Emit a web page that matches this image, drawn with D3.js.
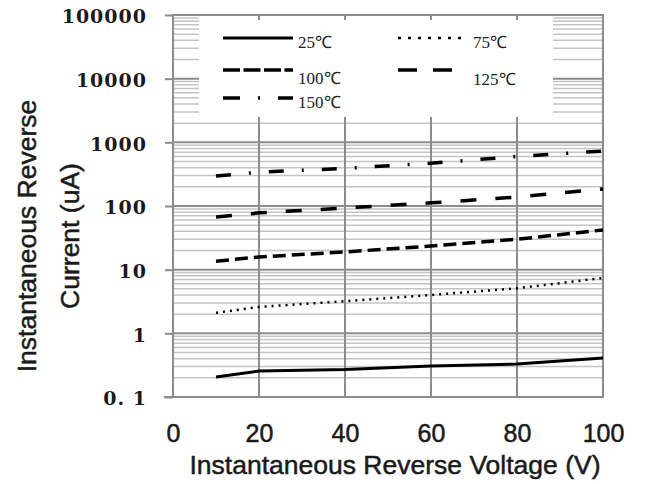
<!DOCTYPE html>
<html>
<head>
<meta charset="utf-8">
<script src="https://cdn.jsdelivr.net/npm/d3@7"></script>
<style>
body { margin: 0; background: #fff; }
.ylab text { font-family: "DejaVu Serif", serif; font-size: 19px; font-weight: bold; fill: #1a1a1a; letter-spacing: 1px; }
.xlab text { font-family: "Liberation Sans", Arial, sans-serif; font-size: 25px; fill: #1a1a1a; stroke: #1a1a1a; stroke-width: 0.5px; }
.title { font-family: "Liberation Sans", Arial, sans-serif; font-size: 26.5px; fill: #1a1a1a; stroke: #1a1a1a; stroke-width: 0.5px; }
.leg { font-family: "Liberation Serif", serif; font-size: 17px; fill: #222; }
</style>
</head>
<body>
<div id="chart"></div>
<script>
const voltage = [10, 20, 40, 60, 80, 100];
const i25 = [0.206, 0.256, 0.27, 0.307, 0.33, 0.41];
const i75 = [2.1, 2.6, 3.2, 4.0, 5.1, 7.4];
const i100 = [13.6, 15.8, 19, 23.5, 30, 42];
const i125 = [67, 78, 93, 112, 138, 185];
const i150 = [295, 340, 390, 470, 600, 730];

const seriesNames = ["25℃", "75℃", "100℃", "125℃", "150℃"];
const xTicks = [0, 20, 40, 60, 80, 100];
const yTicks = [0.1, 1, 10, 100, 1000, 10000, 100000];
const yLabels = ["0. 1", "1", "10", "100", "1000", "10000", "100000"];

const widthSvg = 645, heightSvg = 484;
const plotLeft = 173, plotRight = 603, plotTop = 15, plotBottom = 397;

const x = d3.scaleLinear().domain([0, 100]).range([plotLeft, plotRight]);
const y = d3.scaleLog().domain([0.1, 100000]).range([plotBottom, plotTop]);

const svg = d3.select("#chart").append("svg")
    .attr("width", widthSvg)
    .attr("height", heightSvg);

// grid
let minor = [];
for (let k = -1; k < 5; k++) {
    for (let m = 2; m < 10; m++) minor.push(m * Math.pow(10, k));
}
svg.append("g").selectAll("line")
    .data(minor).enter().append("line")
    .attr("x1", plotLeft).attr("x2", plotRight)
    .attr("y1", d => y(d)).attr("y2", d => y(d))
    .attr("stroke", "#c4c4c4").attr("stroke-width", 1.5);

svg.append("g").selectAll("line")
    .data(yTicks.slice(1, -1)).enter().append("line")
    .attr("x1", plotLeft).attr("x2", plotRight)
    .attr("y1", d => y(d)).attr("y2", d => y(d))
    .attr("stroke", "#8c8c8c").attr("stroke-width", 2);

svg.append("g").selectAll("line")
    .data(xTicks.slice(1, -1)).enter().append("line")
    .attr("x1", d => x(d)).attr("x2", d => x(d))
    .attr("y1", plotTop).attr("y2", plotBottom)
    .attr("stroke", "#8c8c8c").attr("stroke-width", 2);

// legend box
const legBox = { x0: 199, x1: 553, y1: 117 };
svg.append("rect")
    .attr("x", legBox.x0).attr("y", plotTop)
    .attr("width", legBox.x1 - legBox.x0).attr("height", legBox.y1 - plotTop)
    .attr("fill", "#fff");

svg.append("g").selectAll("line")
    .data(xTicks.slice(1, -1)).enter().append("line")
    .attr("x1", d => x(d)).attr("x2", d => x(d))
    .attr("y1", plotTop).attr("y2", plotTop + 5)
    .attr("stroke", "#8c8c8c").attr("stroke-width", 2);

// frame
svg.append("rect")
    .attr("x", plotLeft).attr("y", plotTop)
    .attr("width", plotRight - plotLeft).attr("height", plotBottom - plotTop)
    .attr("fill", "none").attr("stroke", "#8c8c8c").attr("stroke-width", 2);

// axes
const yAxis = svg.append("g")
    .attr("class", "ylab")
    .attr("transform", "translate(" + plotLeft + ",0)")
    .call(d3.axisLeft(y).tickValues(yTicks)
        .tickFormat((d, i) => yLabels[i]).tickSize(8).tickPadding(18));
yAxis.select(".domain").remove();
yAxis.selectAll("line").attr("stroke", "#8c8c8c").attr("stroke-width", 2);
yAxis.selectAll("text").attr("dy", "0.42em");

const xAxis = svg.append("g")
    .attr("class", "xlab")
    .attr("transform", "translate(0," + plotBottom + ")")
    .call(d3.axisBottom(x).tickValues(xTicks).tickSize(0).tickPadding(27));
xAxis.select(".domain").remove();

svg.append("line")
    .attr("x1", 164).attr("x2", plotRight)
    .attr("y1", plotBottom).attr("y2", plotBottom)
    .attr("stroke", "#8c8c8c").attr("stroke-width", 2);

// titles
svg.append("text")
    .attr("class", "title")
    .attr("x", 395).attr("y", 474)
    .attr("text-anchor", "middle")
    .text("Instantaneous Reverse Voltage (V)");

svg.append("text")
    .attr("class", "title")
    .attr("transform", "translate(27,236) rotate(-90)")
    .attr("text-anchor", "middle")
    .attr("dominant-baseline", "central")
    .text("Instantaneous Reverse");

svg.append("text")
    .attr("class", "title")
    .attr("transform", "translate(70,236) rotate(-90)")
    .attr("text-anchor", "middle")
    .attr("dominant-baseline", "central")
    .text("Current (uA)");

// series
const series = [
    { values: i25, dash: null, width: 3, legDash: null },
    { values: i75, dash: "2,5", width: 2.5, legDash: "3,7" },
    { values: i100, dash: "13,6", width: 3.5, legDash: "17,3.5" },
    { values: i125, dash: "16,19", width: 3.5, legDash: "19,16" },
    { values: i150, dash: "15,18,2,18", width: 3.5, legDash: "17,18,2,18" }
];

const line = d3.line()
    .x((d, i) => x(voltage[i]))
    .y(d => y(d));

svg.append("g").selectAll("path")
    .data(series).enter().append("path")
    .attr("d", d => line(d.values))
    .attr("fill", "none")
    .attr("stroke", "#000")
    .attr("stroke-width", d => d.width)
    .attr("stroke-dasharray", d => d.dash);

// legend
const legPos = [
    { lx: 223, ly: 38, tx: 298, ty: 42 },
    { lx: 398, ly: 38, tx: 473, ty: 42 },
    { lx: 223, ly: 70, tx: 298, ty: 78 },
    { lx: 398, ly: 70, tx: 473, ty: 79 },
    { lx: 223, ly: 98, tx: 298, ty: 102 }
];
const lenLeg = [70, 65, 70, 55, 70];

const leg = svg.append("g").selectAll("g")
    .data(series).enter().append("g");

leg.append("line")
    .attr("x1", (d, i) => legPos[i].lx)
    .attr("x2", (d, i) => legPos[i].lx + lenLeg[i])
    .attr("y1", (d, i) => legPos[i].ly)
    .attr("y2", (d, i) => legPos[i].ly)
    .attr("stroke", "#000")
    .attr("stroke-width", d => d.width)
    .attr("stroke-dasharray", d => d.legDash);

leg.append("text")
    .attr("class", "leg")
    .attr("x", (d, i) => legPos[i].tx)
    .attr("y", (d, i) => legPos[i].ty)
    .attr("dominant-baseline", "central")
    .text((d, i) => seriesNames[i]);
</script>
</body>
</html>
